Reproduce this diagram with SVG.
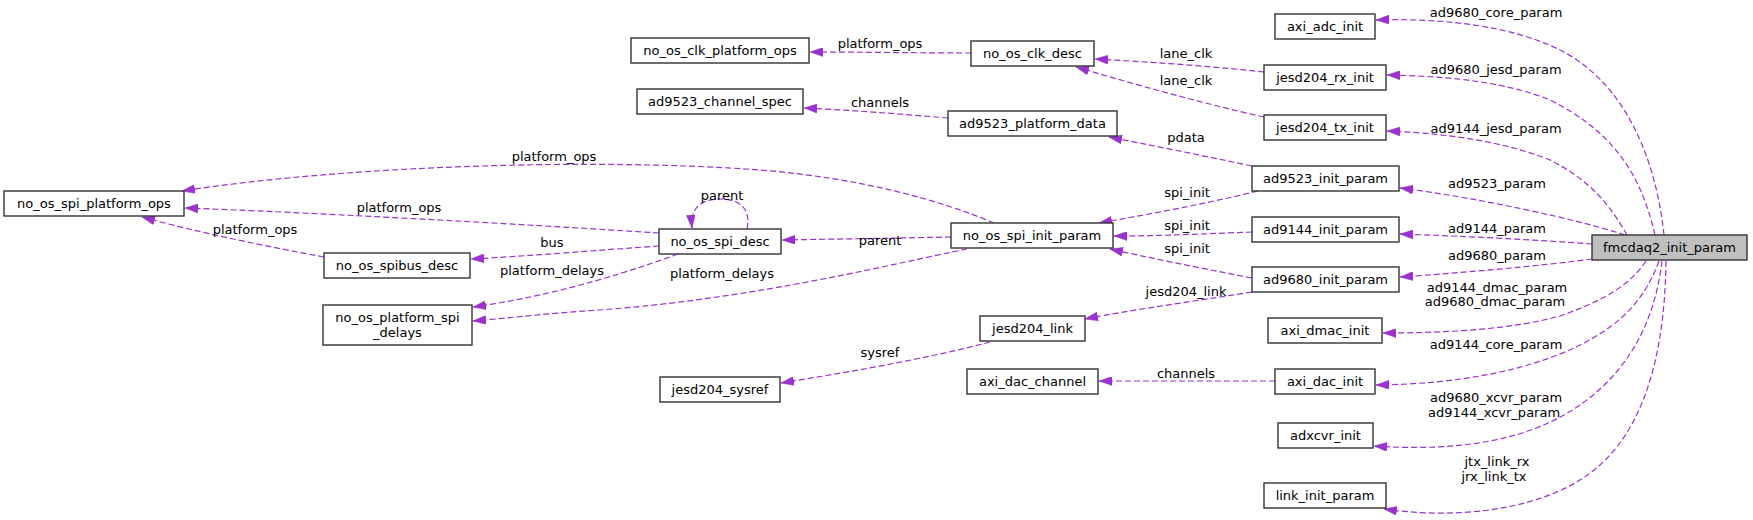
<svg xmlns="http://www.w3.org/2000/svg" width="1753" height="520" viewBox="0 0 1753 520">
<style>
.n rect{fill:#fff;stroke:#333;stroke-width:1.4}
.n.g rect{fill:#bfbfbf}
text{font-family:"DejaVu Sans","Liberation Sans",sans-serif;font-size:13px;fill:#000;text-anchor:middle}
.e path{fill:none;stroke:#9a32cd;stroke-width:1.2;stroke-dasharray:6,3;marker-end:url(#ah)}
</style>
<defs>
<marker id="ah" markerUnits="userSpaceOnUse" markerWidth="13" markerHeight="9" refX="13" refY="4.5" orient="auto">
<path d="M0,0 L13,4.5 L0,9 z" fill="#9a32cd" stroke="#9a32cd" stroke-width="0.5"/>
</marker>
</defs>
<rect width="1753" height="520" fill="#fff"/>
<g id="connectors" class="e">
<path d="M1664,235 C1655,150 1620,80 1560,50 C1510,25 1440,18 1376,20"/>
<path d="M1655,235 C1640,170 1610,130 1550,100 C1500,80 1440,76 1387,75"/>
<path d="M1627,235 C1610,205 1590,180 1550,160 C1500,140 1440,133 1387,131"/>
<path d="M1625,235 C1580,220 1480,198 1400,188"/>
<path d="M1592,244 C1540,240 1460,236 1400,234"/>
<path d="M1592,259 C1540,266 1460,273 1400,277"/>
<path d="M1646,261 C1630,285 1605,300 1560,316 C1510,330 1440,333 1383,333"/>
<path d="M1659,261 C1645,300 1620,325 1580,345 C1530,370 1460,384 1376,385"/>
<path d="M1662,261 C1655,320 1630,370 1580,405 C1530,440 1460,452 1374,446"/>
<path d="M1666,261 C1665,340 1650,420 1600,465 C1550,510 1460,520 1384,509"/>
<path d="M1264,72 C1210,66 1150,62 1095,59"/>
<path d="M1264,117 C1200,103 1120,80 1076,67"/>
<path d="M971,53 C920,53 860,52 810,52"/>
<path d="M948,118 C900,114 850,110 804,108"/>
<path d="M1252,166 C1200,155 1150,145 1109,137"/>
<path d="M1258,191 C1200,205 1150,214 1099,223"/>
<path d="M1252,232 C1200,234 1160,236 1114,236"/>
<path d="M1252,278 C1200,268 1150,258 1110,249"/>
<path d="M1252,292 C1190,302 1130,310 1085,319"/>
<path d="M990,342 C930,358 850,372 781,383"/>
<path d="M1275,381 L1099,381"/>
<path d="M951,237 C900,238 840,239 782,240"/>
<path d="M747,229 C752,205 735,199 720,199 C703,199 690,206 692,228"/>
<path d="M659,233 C520,224 300,212 185,208"/>
<path d="M659,246 C600,250 530,256 471,259"/>
<path d="M678,254 C640,268 560,295 473,307"/>
<path d="M967,249 C900,262 760,298 600,310 C550,313 510,318 473,321"/>
<path d="M994,223 C940,200 860,178 760,170 C600,158 350,165 182,191"/>
<path d="M324,257 C270,247 200,233 142,217"/>
</g>
<g id="edge-labels">
<text x="880" y="48">platform_ops</text>
<text x="1186" y="58">lane_clk</text>
<text x="1186" y="85">lane_clk</text>
<text x="880" y="107">channels</text>
<text x="1186" y="142">pdata</text>
<text x="1496" y="17">ad9680_core_param</text>
<text x="1496" y="74">ad9680_jesd_param</text>
<text x="1496" y="133">ad9144_jesd_param</text>
<text x="554" y="161">platform_ops</text>
<text x="399" y="212">platform_ops</text>
<text x="255" y="234">platform_ops</text>
<text x="722" y="200">parent</text>
<text x="552" y="247">bus</text>
<text x="880" y="245">parent</text>
<text x="552" y="275">platform_delays</text>
<text x="722" y="278">platform_delays</text>
<text x="1187" y="197">spi_init</text>
<text x="1187" y="230">spi_init</text>
<text x="1187" y="253">spi_init</text>
<text x="1186" y="296">jesd204_link</text>
<text x="880" y="357">sysref</text>
<text x="1186" y="378">channels</text>
<text x="1497" y="188">ad9523_param</text>
<text x="1497" y="233">ad9144_param</text>
<text x="1497" y="260">ad9680_param</text>
<text x="1497" y="292">ad9144_dmac_param</text>
<text x="1495" y="306">ad9680_dmac_param</text>
<text x="1496" y="349">ad9144_core_param</text>
<text x="1496" y="402">ad9680_xcvr_param</text>
<text x="1494" y="417">ad9144_xcvr_param</text>
<text x="1497" y="466">jtx_link_rx</text>
<text x="1494" y="481">jrx_link_tx</text>
</g>
<g id="fmcdaq2_init_param" class="n g"><rect x="1592" y="235" width="155" height="25"/><text x="1669.5" y="252">fmcdaq2_init_param</text></g>
<g id="axi_adc_init" class="n"><rect x="1275" y="14" width="100" height="25"/><text x="1325" y="31">axi_adc_init</text></g>
<g id="jesd204_rx_init" class="n"><rect x="1264" y="65" width="122" height="25"/><text x="1325" y="82">jesd204_rx_init</text></g>
<g id="jesd204_tx_init" class="n"><rect x="1264" y="115" width="122" height="25"/><text x="1325" y="132">jesd204_tx_init</text></g>
<g id="ad9523_init_param" class="n"><rect x="1252" y="166" width="147" height="25"/><text x="1325.5" y="183">ad9523_init_param</text></g>
<g id="ad9144_init_param" class="n"><rect x="1252" y="217" width="147" height="25"/><text x="1325.5" y="234">ad9144_init_param</text></g>
<g id="ad9680_init_param" class="n"><rect x="1252" y="267" width="147" height="25"/><text x="1325.5" y="284">ad9680_init_param</text></g>
<g id="axi_dmac_init" class="n"><rect x="1268" y="318" width="114" height="25"/><text x="1325" y="335">axi_dmac_init</text></g>
<g id="axi_dac_init" class="n"><rect x="1275" y="369" width="100" height="25"/><text x="1325" y="386">axi_dac_init</text></g>
<g id="adxcvr_init" class="n"><rect x="1278" y="423" width="95" height="25"/><text x="1325.5" y="440">adxcvr_init</text></g>
<g id="link_init_param" class="n"><rect x="1264" y="483" width="122" height="25"/><text x="1325" y="500">link_init_param</text></g>
<g id="no_os_clk_platform_ops" class="n"><rect x="631" y="38" width="178" height="25"/><text x="720" y="55">no_os_clk_platform_ops</text></g>
<g id="no_os_clk_desc" class="n"><rect x="971" y="41" width="123" height="25"/><text x="1032.5" y="58">no_os_clk_desc</text></g>
<g id="ad9523_channel_spec" class="n"><rect x="637" y="89" width="166" height="25"/><text x="720" y="106">ad9523_channel_spec</text></g>
<g id="ad9523_platform_data" class="n"><rect x="948" y="111" width="169" height="25"/><text x="1032.5" y="128">ad9523_platform_data</text></g>
<g id="no_os_spi_init_param" class="n"><rect x="951" y="223" width="162" height="25"/><text x="1032" y="240">no_os_spi_init_param</text></g>
<g id="no_os_spi_desc" class="n"><rect x="659" y="229" width="122" height="25"/><text x="720" y="246">no_os_spi_desc</text></g>
<g id="jesd204_link" class="n"><rect x="980" y="316" width="105" height="25"/><text x="1032.5" y="333">jesd204_link</text></g>
<g id="jesd204_sysref" class="n"><rect x="660" y="377" width="120" height="25"/><text x="720" y="394">jesd204_sysref</text></g>
<g id="axi_dac_channel" class="n"><rect x="967" y="369" width="131" height="25"/><text x="1032.5" y="386">axi_dac_channel</text></g>
<g id="no_os_spi_platform_ops" class="n"><rect x="4" y="191" width="180" height="25"/><text x="94" y="208">no_os_spi_platform_ops</text></g>
<g id="no_os_spibus_desc" class="n"><rect x="324" y="253" width="146" height="25"/><text x="397" y="270">no_os_spibus_desc</text></g>
<g id="no_os_platform_spi_delays" class="n"><rect x="323" y="305" width="149" height="40"/><text x="397.5" y="322">no_os_platform_spi</text><text x="397.5" y="337">_delays</text></g>
</svg>
